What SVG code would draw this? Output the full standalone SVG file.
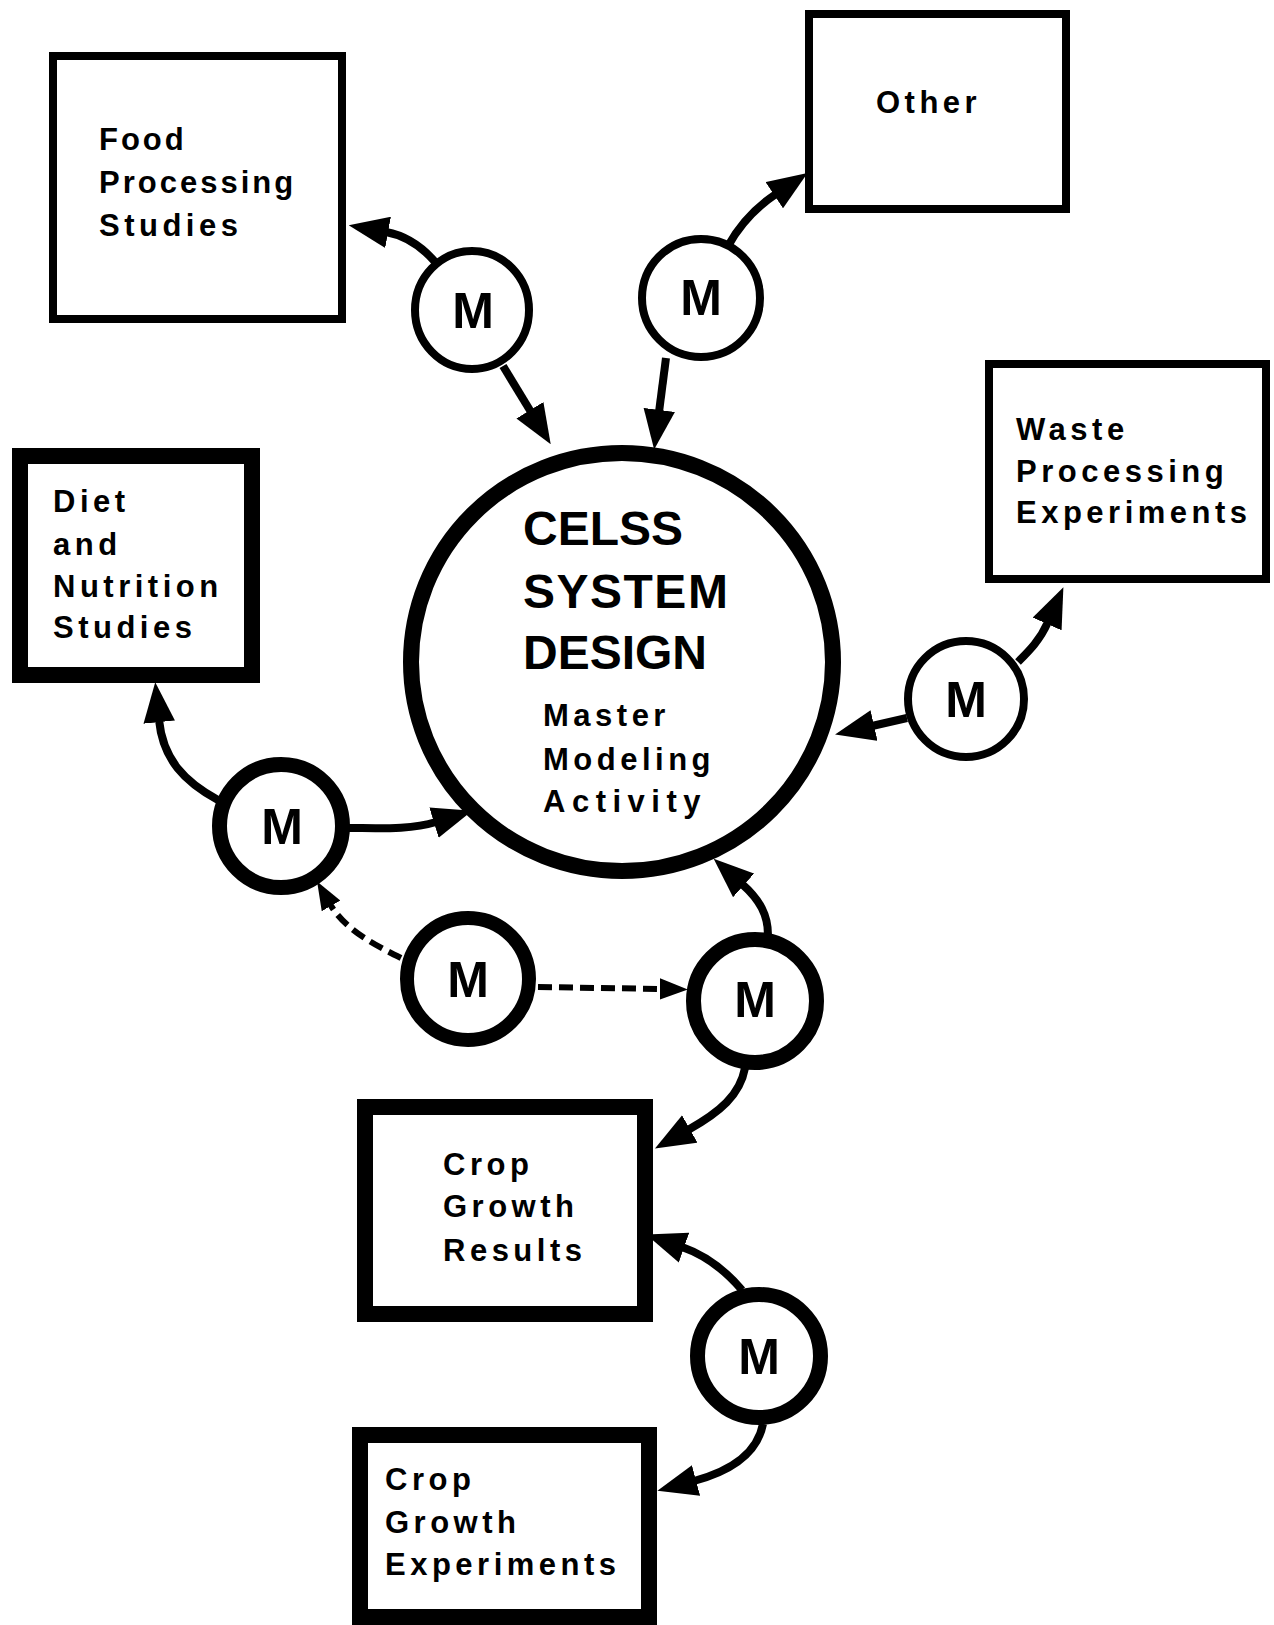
<svg xmlns="http://www.w3.org/2000/svg" width="1274" height="1625" viewBox="0 0 1274 1625">
<defs>
<style>
.box{fill:#fff;stroke:#000}
.thin{stroke-width:8}
.thick{stroke-width:16}
.mc{fill:#fff;stroke:#000}
.lbl{font-family:"Liberation Sans",Arial,Helvetica,sans-serif;font-weight:bold;font-size:31px;letter-spacing:4.5px;fill:#000}
.tight{letter-spacing:3px}
.wide{letter-spacing:6.5px}
.big{font-family:"Liberation Sans",Arial,Helvetica,sans-serif;font-weight:bold;font-size:48px;fill:#000}
.m{font-family:"Liberation Sans",Arial,Helvetica,sans-serif;font-weight:bold;font-size:50px;fill:#000;text-anchor:middle}
.c{fill:none;stroke:#000;stroke-width:8}
.d{fill:none;stroke:#000;stroke-width:6;stroke-dasharray:14 7}
</style>
<marker id="ah" markerUnits="userSpaceOnUse" markerWidth="40" markerHeight="32" viewBox="0 0 38 30" refX="2" refY="15" orient="auto">
<path d="M0,0 L38,15 L0,30 Z" fill="#000"/>
</marker>
<marker id="ahs" markerUnits="userSpaceOnUse" markerWidth="28" markerHeight="22" viewBox="0 0 26 20" refX="2" refY="10" orient="auto">
<path d="M0,0 L26,10 L0,20 Z" fill="#000"/>
</marker>
</defs>
<rect width="1274" height="1625" fill="#fff"/>

<g id="connectors">
<path class="c" d="M436,263 C425,250 408,236 386,232" marker-end="url(#ah)"/>
<path class="c" d="M503,366 L531,412" marker-end="url(#ah)"/>
<path class="c" d="M666,358 L659,412" marker-end="url(#ah)"/>
<path class="c" d="M728,246 C738,228 752,210 776,194" marker-end="url(#ah)"/>
<path class="c" d="M907,718 L872,726" marker-end="url(#ah)"/>
<path class="c" d="M1018,662 C1030,650 1040,640 1048,622" marker-end="url(#ah)"/>
<path class="c" d="M218,800 C185,782 163,760 159,720" marker-end="url(#ah)"/>
<path class="c" d="M346,828 C378,828 410,830 436,822" marker-end="url(#ah)"/>
<path class="c" d="M768,935 C768,915 760,900 742,884" marker-end="url(#ah)"/>
<path class="c" d="M745,1068 C740,1095 720,1112 688,1130" marker-end="url(#ah)"/>
<path class="c" d="M742,1290 C725,1270 705,1255 682,1247" marker-end="url(#ah)"/>
<path class="c" d="M763,1424 C758,1450 735,1470 694,1481" marker-end="url(#ah)"/>
<path class="d" d="M401,958 C375,945 345,930 330,904" marker-end="url(#ahs)"/>
<path class="d" d="M538,987 L662,989" marker-end="url(#ahs)"/>
</g>

<g id="food">
<rect class="box thin" x="53" y="56" width="289" height="263"/>
<text class="lbl tight" x="99" y="150">Food</text>
<text class="lbl tight" x="99" y="193">Processing</text>
<text class="lbl" x="99" y="236">Studies</text>
</g>

<g id="other">
<rect class="box thin" x="809" y="14" width="257" height="195"/>
<text class="lbl" x="876" y="113">Other</text>
</g>

<g id="waste">
<rect class="box thin" x="989" y="364" width="277" height="215"/>
<text class="lbl" x="1016" y="440">Waste</text>
<text class="lbl" x="1016" y="482">Processing</text>
<text class="lbl" x="1016" y="523">Experiments</text>
</g>

<g id="diet">
<rect class="box thick" x="20" y="456" width="232" height="219"/>
<text class="lbl" x="53" y="512">Diet</text>
<text class="lbl" x="53" y="555">and</text>
<text class="lbl" x="53" y="597">Nutrition</text>
<text class="lbl" x="53" y="638">Studies</text>
</g>

<g id="celss">
<ellipse cx="622" cy="662" rx="211" ry="209" fill="#fff" stroke="#000" stroke-width="16"/>
<text class="big" x="523" y="545">CELSS</text>
<text class="big" x="523" y="608" style="letter-spacing:1.5px">SYSTEM</text>
<text class="big" x="523" y="669">DESIGN</text>
<text class="lbl" x="543" y="726">Master</text>
<text class="lbl" x="543" y="770">Modeling</text>
<text class="lbl wide" x="543" y="812">Activity</text>
</g>

<g id="crop-results">
<rect class="box thick" x="365" y="1107" width="280" height="207"/>
<text class="lbl" x="443" y="1175">Crop</text>
<text class="lbl" x="443" y="1217">Growth</text>
<text class="lbl" x="443" y="1261">Results</text>
</g>

<g id="crop-experiments">
<rect class="box thick" x="360" y="1435" width="289" height="182"/>
<text class="lbl" x="385" y="1490">Crop</text>
<text class="lbl" x="385" y="1533">Growth</text>
<text class="lbl" x="385" y="1575">Experiments</text>
</g>

<g id="m-food">
<ellipse class="mc" cx="472" cy="310" rx="57" ry="59" stroke-width="8"/>
<text class="m" x="473" y="328">M</text>
</g>
<g id="m-other">
<circle class="mc" cx="701" cy="298" r="59" stroke-width="8"/>
<text class="m" x="701" y="315">M</text>
</g>
<g id="m-waste">
<circle class="mc" cx="966" cy="699" r="58" stroke-width="8"/>
<text class="m" x="966" y="717">M</text>
</g>
<g id="m-diet">
<circle class="mc" cx="281" cy="826" r="61.5" stroke-width="15"/>
<text class="m" x="282" y="844">M</text>
</g>
<g id="m-middle">
<circle class="mc" cx="468" cy="979" r="61" stroke-width="14"/>
<text class="m" x="468" y="997">M</text>
</g>
<g id="m-right">
<circle class="mc" cx="755" cy="1001" r="61.5" stroke-width="15"/>
<text class="m" x="755" y="1017">M</text>
</g>
<g id="m-bottom">
<circle class="mc" cx="759" cy="1356" r="61.5" stroke-width="15"/>
<text class="m" x="759" y="1374">M</text>
</g>
</svg>
